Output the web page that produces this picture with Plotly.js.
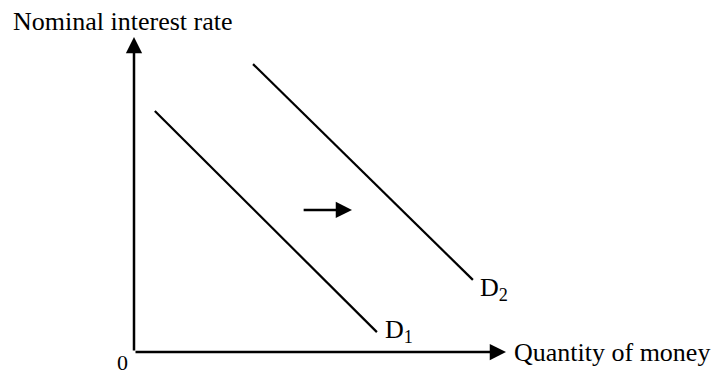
<!DOCTYPE html>
<html>
<head>
<meta charset="utf-8">
<script src="https://cdn.plot.ly/plotly-3.0.1.min.js"></script>
<style>html,body{margin:0;padding:0;background:#fff;}#chart{width:716px;height:376px;}</style>
</head>
<body>
<div id="chart"></div>
<script>
// Demand curves (arbitrary units)
const d1X = [0.56, 6.53];
const d1Y = [7.65, 0.63];
const d2X = [3.2, 9.11];
const d2Y = [9.14, 2.29];
// shift arrow (tail -> head)
const shiftX = [4.52, 5.86];
const shiftY = [4.51, 4.51];
// curve labels
const curveLabels = ['D<sub>1</sub>', 'D<sub>2</sub>'];
const labelX = [6.69, 9.25];
const labelY = [0.67, 2.0];
const xTitle = 'Quantity of money';
const yTitle = 'Nominal interest rate';
const originLabel = '0';

const font = 'Liberation Serif, Times New Roman, serif';
const lineStyle = {color: '#000', width: 2.2};

const traces = [
  {x: d1X, y: d1Y, mode: 'lines', line: lineStyle, hoverinfo: 'skip'},
  {x: d2X, y: d2Y, mode: 'lines', line: lineStyle, hoverinfo: 'skip'}
];

const annotations = [
  // axes with arrows
  {x: 10, y: 0, ax: 0, ay: 0, xref: 'x', yref: 'y', axref: 'x', ayref: 'y', text: '', showarrow: true,
   arrowhead: 2, arrowsize: 1.3, arrowwidth: 2.5, arrowcolor: '#000', standoff: 0},
  {x: 0, y: 10, ax: 0, ay: 0, xref: 'x', yref: 'y', axref: 'x', ayref: 'y', text: '', showarrow: true,
   arrowhead: 2, arrowsize: 1.3, arrowwidth: 2.5, arrowcolor: '#000', standoff: 0},
  // shift arrow
  {x: shiftX[1], y: shiftY[1], ax: shiftX[0], ay: shiftY[0], xref: 'x', yref: 'y', axref: 'x', ayref: 'y', text: '', showarrow: true,
   arrowhead: 2, arrowsize: 1.3, arrowwidth: 2.5, arrowcolor: '#000', standoff: 0},
  // texts (paper coordinates, outside the plot area)
  {x: 1.016, y: 0, xref: 'paper', yref: 'paper', text: xTitle, showarrow: false, xanchor: 'left', yanchor: 'middle',
   font: {family: font, size: 26, color: '#000'}},
  {x: -0.33, y: 1.05, xref: 'paper', yref: 'paper', text: yTitle, showarrow: false, xanchor: 'left', yanchor: 'middle',
   font: {family: font, size: 26, color: '#000'}},
  {x: -0.03, y: -0.032, xref: 'paper', yref: 'paper', text: originLabel, showarrow: false, xanchor: 'center', yanchor: 'middle',
   borderpad: 0, font: {family: font, size: 22, color: '#000'}}
];
curveLabels.forEach((t, i) => {
  annotations.push({x: labelX[i], y: labelY[i], xref: 'x', yref: 'y', text: t, showarrow: false,
    xanchor: 'left', yanchor: 'middle', font: {family: font, size: 26, color: '#000'}});
});

const hidden = {range: [0, 10], showgrid: false, zeroline: false, showticklabels: false, ticks: '', showline: false, fixedrange: true};

const layout = {
  width: 716, height: 376,
  margin: {l: 134, r: 210, t: 37, b: 24},
  paper_bgcolor: '#fff', plot_bgcolor: '#fff',
  showlegend: false,
  xaxis: Object.assign({}, hidden),
  yaxis: Object.assign({}, hidden),
  annotations: annotations
};

Plotly.newPlot('chart', traces, layout, {displayModeBar: false, staticPlot: true});
</script>
</body>
</html>
